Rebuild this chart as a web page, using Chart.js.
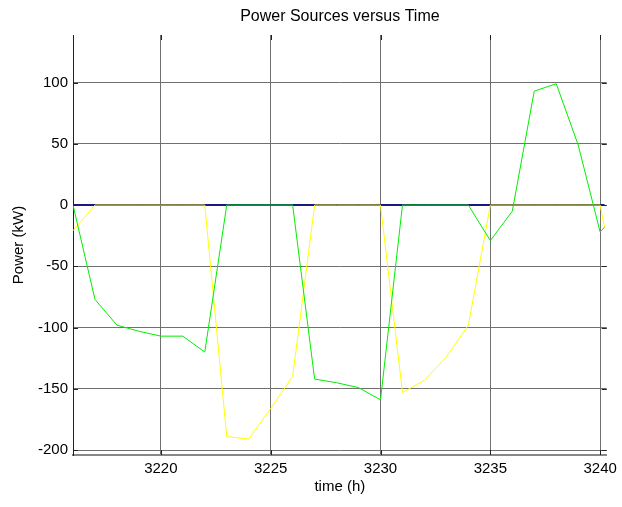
<!DOCTYPE html>
<html>
<head>
<meta charset="utf-8">
<title>Power Sources versus Time</title>
<script src="https://cdn.jsdelivr.net/npm/chart.js@4.4.1/dist/chart.umd.min.js"></script>
<style>
    html, body { margin: 0; padding: 0; background: #fff; }
    #wrap { width: 622px; height: 507px; }
</style>
</head>
<body>
<div id="wrap"><canvas id="powerChart" width="622" height="507"></canvas></div>
<script>
// hourly samples, last one is a partial hour
const hours = [3216, 3217, 3218, 3219, 3220, 3221, 3222, 3223, 3224, 3225, 3226, 3227, 3228,
               3229, 3230, 3231, 3232, 3233, 3234, 3235, 3236, 3237, 3238, 3239, 3240, 3240.2];

const sourceA = [0, 0, 0, 0, 0, 0, 0, 0, 0, 0, 0, 0, 0,
                 0, 0, 0, 0, 0, 0, 0, 0, 0, 0, 0, 0, 0];
const sourceB = [-21, 0, 0, 0, 0, 0, 0, -189, -191, -166, -140, 0, 0,
                 0, 0, -153, -143, -124, -98, 0, 0, 0, 0, 0, 0, -18];
const sourceC = [0, -77, -98, -103, -107, -107, -120, 0, 0, 0, 0, -142, -145,
                 -149, -159, 0, 0, 0, 0, -29, -5, 93, 99, 49, -22, -18];

const xTicks = [3220, 3225, 3230, 3235, 3240];
const yTicks = [-200, -150, -100, -50, 0, 50, 100];

const FONT = 'Liberation Sans, Arial, Helvetica, sans-serif';

function toPoints(vals) {
    return vals.map((v, i) => ({ x: hours[i], y: v }));
}

// title over the plot box plus small inward tick marks on all four sides
const axesDecor = {
    id: 'axesDecor',
    afterDraw(chart) {
        const ctx = chart.ctx;
        const area = chart.chartArea;
        const xs = chart.scales.x;
        const ys = chart.scales.y;
        ctx.save();
        ctx.strokeStyle = '#222';
        ctx.lineWidth = 1;
        ctx.beginPath();
        xTicks.forEach(t => {
            const px = Math.round(xs.getPixelForValue(t)) + 0.5;
            ctx.moveTo(px, area.bottom); ctx.lineTo(px, area.bottom - 5);
            ctx.moveTo(px, area.top); ctx.lineTo(px, area.top + 5);
        });
        yTicks.forEach(t => {
            const py = Math.round(ys.getPixelForValue(t)) + 0.5;
            ctx.moveTo(area.left, py); ctx.lineTo(area.left + 5, py);
            ctx.moveTo(area.right, py); ctx.lineTo(area.right - 5, py);
        });
        ctx.stroke();

        ctx.fillStyle = '#000';
        ctx.font = '16px ' + FONT;
        ctx.textAlign = 'center';
        ctx.textBaseline = 'middle';
        ctx.fillText('Power Sources versus Time', (area.left + area.right) / 2, 17);
        ctx.restore();
    }
};

const ctx = document.getElementById('powerChart').getContext('2d');
const powerChart = new Chart(ctx, {
    type: 'line',
    data: {
        datasets: [
            {
                label: 'Source C',
                data: toPoints(sourceC),
                borderColor: '#00ee00',
                borderWidth: 1,
                order: 1
            },
            {
                label: 'Source B',
                data: toPoints(sourceB),
                borderColor: '#ffff00',
                borderWidth: 1,
                order: 2
            },
            {
                label: 'Source A',
                data: toPoints(sourceA),
                borderColor: '#1a1a7a',
                borderWidth: 2,
                order: 3
            }
        ]
    },
    options: {
        responsive: false,
        animation: false,
        events: [],
        layout: { padding: { top: 35, right: 13, left: 0, bottom: 0 } },
        elements: {
            point: { radius: 0 },
            line: { tension: 0 }
        },
        plugins: {
            legend: { display: false },
            tooltip: { enabled: false },
            title: { display: false }
        },
        scales: {
            x: {
                type: 'linear',
                min: 3216,
                max: 3240.3,
                afterBuildTicks: scale => { scale.ticks = xTicks.map(v => ({ value: v })); },
                afterFit: scale => { scale.height = 52; },
                ticks: {
                    color: '#000',
                    font: { family: FONT, size: 15 },
                    padding: 5,
                    maxRotation: 0,
                    callback: v => String(v)
                },
                grid: { color: '#707070', lineWidth: 1, drawTicks: false },
                border: { display: true, color: '#888', width: 2 },
                title: {
                    display: true,
                    text: 'time (h)',
                    color: '#000',
                    font: { family: FONT, size: 15 },
                    padding: { top: 0, bottom: 11 }
                }
            },
            y: {
                type: 'linear',
                min: -204,
                max: 138.8,
                afterBuildTicks: scale => { scale.ticks = yTicks.map(v => ({ value: v })); },
                afterFit: scale => { scale.width = 73; },
                ticks: {
                    color: '#000',
                    font: { family: FONT, size: 15 },
                    padding: 5
                },
                grid: { color: '#707070', lineWidth: 1, drawTicks: false },
                border: { display: true, color: '#222', width: 1 },
                title: {
                    display: true,
                    text: 'Power (kW)',
                    color: '#000',
                    font: { family: FONT, size: 15 },
                    padding: { top: 10, bottom: 0 }
                }
            }
        }
    },
    plugins: [axesDecor]
});
</script>
</body>
</html>
